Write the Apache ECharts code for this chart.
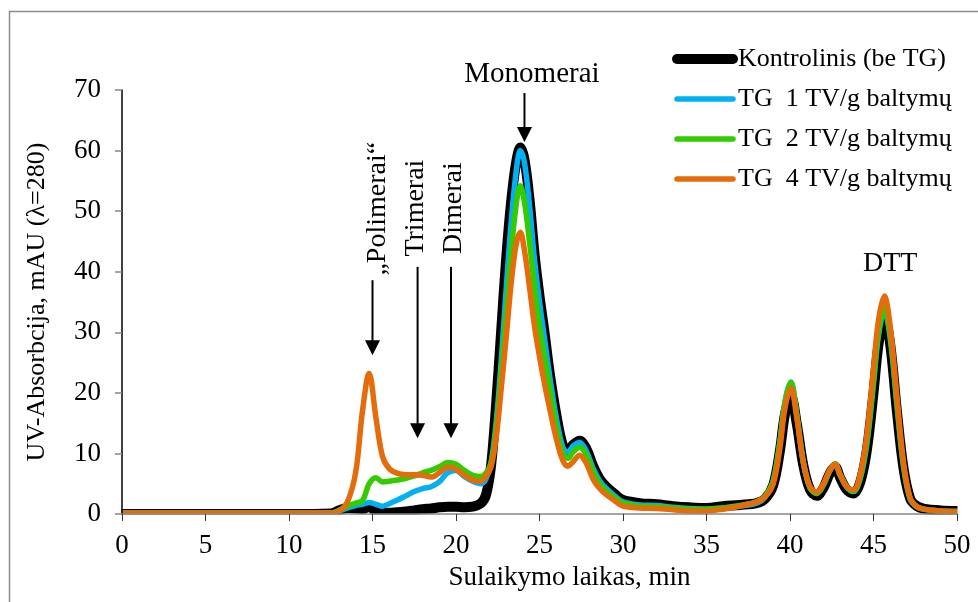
<!DOCTYPE html>
<html>
<head>
<meta charset="utf-8">
<script src="https://cdn.jsdelivr.net/npm/echarts@6/dist/echarts.min.js"></script>
<style>
  html, body { margin: 0; padding: 0; background: #fff; }
  #chart { width: 978px; height: 602px; }
</style>
</head>
<body>
<div id="chart"></div>
<script>
// Retention time, min
const times = [0, 5, 10, 12.5, 13, 13.5, 14, 14.4, 14.8, 15.2, 15.6, 16, 16.5, 17, 17.5, 18, 18.5, 19, 19.5, 20,
  20.5, 21, 21.5, 21.8, 22.1, 22.4, 22.7, 23, 23.3, 23.6, 23.85, 24.1, 24.4, 24.7, 25, 25.3, 25.6, 26, 26.4, 26.7,
  27, 27.4, 27.8, 28.2, 28.6, 29, 29.5, 30, 31, 32, 33, 34, 35, 36, 37, 38, 38.5, 39, 39.4, 39.7,
  40.05, 40.4, 40.8, 41.2, 41.6, 42, 42.4, 42.7, 43, 43.4, 43.8, 44.2, 44.6, 45, 45.3, 45.65, 46, 46.4, 46.8, 47.2,
  47.6, 48, 49, 50];

// UV absorbance, mAU
const kontrolinis = [0, 0, 0, 0.1, 0.6, 1.0, 0.9, 0.8, 1.2, 0.4, 0.2, 0.2, 0.3, 0.4, 0.6, 0.8, 0.9, 1.1, 1.2, 1.2,
  1.1, 1.2, 1.8, 3.2, 8, 18, 30, 42, 51.5, 58, 60.5, 58.5, 52, 43, 36, 30, 23.5, 16.5, 11.3, 10.3,
  11.4, 12.1, 10.8, 8, 5.8, 4.5, 3.3, 2.3, 1.8, 1.6, 1.3, 1.1, 1.0, 1.3, 1.5, 1.8, 2.5, 4.8, 10.5, 16.5,
  19.5, 15, 8, 4, 3.0, 4.3, 6.8, 7.8, 6, 4, 3.4, 5.2, 10.5, 20, 28, 32.5, 28, 17, 7.5, 2.5,
  1.3, 0.9, 0.6, 0.5];

const tg1 = [0.15, 0.15, 0.15, 0.15, 0.5, 1.0, 1.4, 1.6, 1.9, 1.6, 1.3, 1.7, 2.3, 3.0, 3.7, 4.2, 4.5, 5.3, 6.8, 7.2,
  6.2, 5.4, 5.0, 5.8, 8.4, 15, 25, 37, 48, 56.5, 60, 58, 51, 42, 35, 29, 23, 16, 11, 10.2,
  11.2, 11.8, 10.4, 7.6, 5.5, 4.2, 3.0, 2.0, 1.5, 1.4, 1.1, 0.9, 0.8, 1.0, 1.3, 1.8, 2.8, 5.5, 12, 18.5,
  21.8, 16.5, 8.5, 4.3, 3.4, 4.8, 7.2, 8.2, 6.4, 4.4, 3.7, 5.8, 11.5, 21.5, 29.5, 33.5, 29, 18, 7.8, 2.4,
  1.2, 0.8, 0.5, 0.4];

const tg2 = [0.15, 0.15, 0.15, 0.15, 0.6, 1.3, 1.8, 2.2, 5.0, 6.0, 5.3, 5.4, 5.6, 5.9, 6.3, 6.8, 7.2, 7.8, 8.5, 8.2,
  7.2, 6.4, 6.2, 6.8, 8.5, 14, 23, 33, 43, 51, 54.2, 51.5, 45, 37.5, 31, 26, 21, 14.5, 10, 9.2,
  10.2, 11, 9.8, 7, 5, 3.8, 2.7, 1.8, 1.3, 1.2, 1.0, 0.8, 0.8, 1.0, 1.4, 2.0, 3, 5.5, 12, 18.5,
  21.7, 16.5, 8.5, 4.3, 3.4, 4.8, 7.3, 8.3, 6.5, 4.5, 3.8, 6, 12, 22, 30, 34, 29.5, 18.5, 8, 2.5,
  1.2, 0.8, 0.5, 0.4];

const tg4 = [0.15, 0.15, 0.15, 0.15, 0.5, 2, 7, 17, 23.2, 16, 9.5, 7.5, 6.7, 6.5, 6.5, 6.4, 6.1, 6.8, 7.7, 7.4,
  6.4, 5.6, 5.4, 6.3, 7.8, 12.5, 20.5, 29, 38, 44.5, 46.5, 43.5, 37.5, 31, 26, 21.5, 17.5, 12.5, 8.8, 7.9,
  8.6, 9.7, 8.4, 5.8, 4.2, 3.2, 2.2, 1.3, 1.0, 0.9, 0.7, 0.5, 0.5, 0.8, 1.3, 2.0, 2.8, 5, 11, 17.5,
  20.8, 16, 8.5, 4.5, 3.6, 5, 7.3, 8.2, 6.5, 4.5, 4.0, 6.5, 13, 24, 32, 36, 31, 19.5, 8.5, 2.6,
  1.2, 0.8, 0.5, 0.4];

const seriesNames = ['Kontrolinis (be TG)', 'TG  1 TV/g baltymų', 'TG  2 TV/g baltymų', 'TG  4 TV/g baltymų'];
const seriesValues = [kontrolinis, tg1, tg2, tg4];
const seriesColors = ['#000000', '#00B0F0', '#33CC00', '#E46C0A'];
const seriesWidths = [10, 5.5, 5.5, 5.5];

// Peak annotations: label, arrow time, arrow top / tip (mAU), label centre (time, mAU), vertical text
const annotations = [
  { label: 'Monomerai', t: 24.1, top: 69.5, tip: 61.4, lt: 24.55, lv: 72.6, vertical: false, size: 29 },
  { label: '„Polimerai“', t: 15.0, top: 38.6, tip: 26.2, lt: 15.3, lv: 50.4, vertical: true, size: 28 },
  { label: 'Trimerai', t: 17.7, top: 40.8, tip: 12.5, lt: 17.6, lv: 50.5, vertical: true, size: 28 },
  { label: 'Dimerai', t: 19.7, top: 40.8, tip: 12.5, lt: 19.85, lv: 50.5, vertical: true, size: 28 },
  { label: 'DTT', t: null, lt: 46.0, lv: 41.4, vertical: false, size: 28 }
];

const FONT = '"Liberation Serif", "Times New Roman", serif';

const chart = echarts.init(document.getElementById('chart'), null, { renderer: 'canvas' });

const series = seriesNames.map((name, i) => ({
  name: name,
  type: 'line',
  data: times.map((t, k) => [t, seriesValues[i][k]]),
  smooth: 0.35,
  symbol: 'none',
  z: 2 + i,
  lineStyle: { color: seriesColors[i], width: seriesWidths[i], cap: 'round', join: 'round' },
  itemStyle: { color: seriesColors[i] },
  emphasis: { disabled: true },
  animation: false
}));

chart.setOption({
  backgroundColor: '#ffffff',
  animation: false,
  grid: { left: 122, right: 21, top: 90, bottom: 88 },
  xAxis: {
    type: 'value',
    z: 12,
    min: 0, max: 50, interval: 5,
    name: 'Sulaikymo laikas, min',
    nameLocation: 'middle',
    nameGap: 50,
    nameTextStyle: { fontFamily: FONT, fontSize: 27, color: '#000', padding: [0, 0, 0, 60] },
    axisLine: { lineStyle: { color: '#868686', width: 1.5 } },
    axisTick: { show: true, length: 7, lineStyle: { color: '#333', width: 1 } },
    axisLabel: { fontFamily: FONT, fontSize: 27, color: '#000', margin: 18 },
    splitLine: { show: false }
  },
  yAxis: {
    type: 'value',
    z: 12,
    min: 0, max: 70, interval: 10,
    name: 'UV-Absorbcija, mAU (λ=280)',
    nameLocation: 'middle',
    nameGap: 72,
    nameTextStyle: { fontFamily: FONT, fontSize: 26, color: '#000' },
    axisLine: { show: true, lineStyle: { color: '#000', width: 1.5 } },
    axisTick: { show: true, length: 7, lineStyle: { color: '#868686', width: 1.5 } },
    axisLabel: { fontFamily: FONT, fontSize: 27, color: '#000', margin: 21 },
    splitLine: { show: false }
  },
  legend: {
    orient: 'vertical',
    left: 667,
    top: 41,
    itemWidth: 56,
    itemHeight: 14,
    itemGap: 14,
    itemStyle: { opacity: 0 },
    data: seriesNames.map((name, i) => ({
      name: name,
      lineStyle: { width: seriesWidths[i], cap: 'round', color: seriesColors[i] }
    })),
    textStyle: { fontFamily: FONT, fontSize: 26, color: '#000' },
    selectedMode: false
  },
  series: series
});

// Plot-area edges: the traces are cut off at the axes
const origin = chart.convertToPixel({ gridIndex: 0 }, [0, 0]);
const end = chart.convertToPixel({ gridIndex: 0 }, [50, 0]);
const graphics = [
  {
    type: 'rect',
    shape: { x: 9.5, y: 11.5, width: 1100, height: 700 },
    style: { fill: null, stroke: '#8c8c8c', lineWidth: 1.5 },
    silent: true,
    z: 0
  },
  {
    type: 'rect',
    shape: { x: origin[0] - 12, y: origin[1] + 0.5, width: end[0] - origin[0] + 24, height: 8 },
    style: { fill: '#ffffff' }, silent: true, z: 8
  },
  {
    type: 'rect',
    shape: { x: origin[0] - 12, y: origin[1] - 12, width: 11.2, height: 20 },
    style: { fill: '#ffffff' }, silent: true, z: 8
  },
  {
    type: 'rect',
    shape: { x: end[0] + 0.5, y: origin[1] - 12, width: 12, height: 20 },
    style: { fill: '#ffffff' }, silent: true, z: 8
  }
];

// Arrows and peak labels placed in data coordinates
annotations.forEach(a => {
  const c = chart.convertToPixel({ gridIndex: 0 }, [a.lt, a.lv]);
  graphics.push({
    type: 'text',
    x: c[0], y: c[1],
    rotation: a.vertical ? Math.PI / 2 : 0,
    style: {
      text: a.label,
      font: a.size + 'px ' + FONT,
      fill: '#000',
      align: 'center',
      verticalAlign: 'middle'
    },
    silent: true,
    z: 10
  });
  if (a.t !== null) {
    const p0 = chart.convertToPixel({ gridIndex: 0 }, [a.t, a.top]);
    const p1 = chart.convertToPixel({ gridIndex: 0 }, [a.t, a.tip]);
    const head = 15;
    graphics.push({
      type: 'line',
      shape: { x1: p0[0], y1: p0[1], x2: p1[0], y2: p1[1] - head + 1 },
      style: { stroke: '#000', lineWidth: 2 },
      silent: true, z: 10
    });
    graphics.push({
      type: 'polygon',
      shape: { points: [[p1[0] - 7.5, p1[1] - head], [p1[0] + 7.5, p1[1] - head], [p1[0], p1[1]]] },
      style: { fill: '#000' },
      silent: true, z: 10
    });
  }
});

chart.setOption({ graphic: graphics });
</script>
</body>
</html>
